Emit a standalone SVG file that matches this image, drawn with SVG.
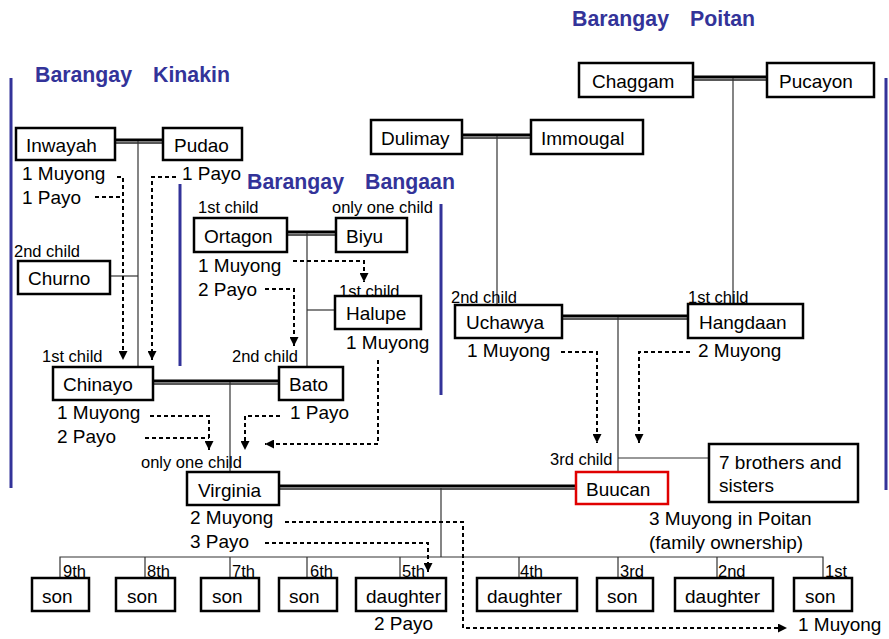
<svg xmlns="http://www.w3.org/2000/svg" width="889" height="639" viewBox="0 0 889 639">
<defs>
<marker id="arr" viewBox="0 0 10 10" refX="10" refY="5" markerWidth="9" markerHeight="9" markerUnits="userSpaceOnUse" orient="auto">
<path d="M0,0 L10,5 L0,10 z" fill="#000"/>
</marker>
<style>
text{font-family:"Liberation Sans",Arial,sans-serif;fill:#000}
.t{font-size:19px}
.s{font-size:16.5px}
.h{font-size:21.3px;font-weight:bold;fill:#333399}
.box{fill:#fff;stroke:#000;stroke-width:2.5}
.red{fill:#fff;stroke:#e00000;stroke-width:2.5}
.blue{stroke:#333399;stroke-width:3;fill:none}
.m1{stroke:#000;stroke-width:3.2;fill:none}
.m2{stroke:#222;stroke-width:1.5;fill:none}
.c{stroke:#333;stroke-width:1.2;fill:none}
.d{stroke:#000;stroke-width:2;stroke-dasharray:4,3;fill:none}
.da{stroke:#000;stroke-width:2;stroke-dasharray:4,3;fill:none;marker-end:url(#arr)}
</style>
</defs>
<rect width="889" height="639" fill="#fff"/>

<g id="regions">
<line class="blue" x1="11" y1="78" x2="11" y2="488"/>
<line class="blue" x1="180" y1="184" x2="180" y2="366"/>
<line class="blue" x1="441" y1="204" x2="441" y2="395"/>
<line class="blue" x1="886" y1="78" x2="886" y2="490"/>
<text class="h" x="35" y="82">Barangay<tspan x="153">Kinakin</tspan></text>
<text class="h" x="247" y="189">Barangay<tspan x="365">Bangaan</tspan></text>
<text class="h" x="572" y="26">Barangay<tspan x="690">Poitan</tspan></text>
</g>

<g id="connectors">
<line class="m1" x1="115" y1="140" x2="163" y2="140"/><line class="m2" x1="115" y1="143" x2="163" y2="143"/>
<line class="m1" x1="153" y1="381" x2="279" y2="381"/><line class="m2" x1="153" y1="384" x2="279" y2="384"/>
<line class="m1" x1="287" y1="232" x2="336" y2="232"/><line class="m2" x1="287" y1="235" x2="336" y2="235"/>
<line class="m1" x1="462" y1="135" x2="531" y2="135"/><line class="m2" x1="462" y1="138" x2="531" y2="138"/>
<line class="m1" x1="693" y1="77" x2="767" y2="77"/><line class="m2" x1="693" y1="80" x2="767" y2="80"/>
<line class="m1" x1="562" y1="316" x2="688" y2="316"/><line class="m2" x1="562" y1="319" x2="688" y2="319"/>
<line class="m1" x1="279" y1="486" x2="576" y2="486"/><line class="m2" x1="279" y1="489" x2="576" y2="489"/>
<line class="c" x1="138" y1="141" x2="138" y2="367"/>
<line class="c" x1="110" y1="276" x2="138" y2="276"/>
<line class="c" x1="307" y1="233" x2="307" y2="367"/>
<line class="c" x1="307" y1="310" x2="335" y2="310"/>
<line class="c" x1="230" y1="382" x2="230" y2="471"/>
<line class="c" x1="497" y1="136" x2="497" y2="305"/>
<line class="c" x1="733" y1="78" x2="733" y2="303"/>
<line class="c" x1="618" y1="317" x2="618" y2="472"/>
<line class="c" x1="618" y1="458" x2="709" y2="458"/>
<line class="c" x1="441" y1="488" x2="441" y2="557"/>
<path class="c" d="M60,578 V557 H823 V578 M145,557 V578 M230,557 V578 M307,557 V578 M400,557 V578 M519,557 V578 M618,557 V578 M717,557 V578"/>
<path class="da" d="M117,177 H123 V360"/>
<path class="d" d="M95,197 H123"/>
<path class="da" d="M176,177 H152 V360"/>
<path class="da" d="M293,261 H364 V282"/>
<path class="da" d="M265,289 H294 V346"/>
<path class="da" d="M378,360 V444 H265"/>
<path class="da" d="M150,416 H209 V450"/>
<path class="d" d="M145,438 H209"/>
<path class="da" d="M280,416 H245 V450"/>
<path class="da" d="M285,522 H463 V628 H787"/>
<path class="da" d="M265,543 H428 V572"/>
<path class="da" d="M561,352 H597 V443"/>
<path class="da" d="M690,352 H639 V443"/>
</g>

<g id="inwayah"><rect class="box" x="16" y="128" width="99" height="32"/><text class="t" x="26" y="152">Inwayah</text>
<text class="t" x="22" y="180">1 Muyong</text><text class="t" x="22" y="204">1 Payo</text></g>
<g id="pudao"><rect class="box" x="163" y="128" width="79" height="32"/><text class="t" x="174" y="152">Pudao</text>
<text class="t" x="182" y="180">1 Payo</text></g>
<g id="churno"><text class="s" x="14" y="257">2nd child</text><rect class="box" x="18" y="261" width="92" height="33"/><text class="t" x="28" y="285">Churno</text></g>
<g id="chinayo"><text class="s" x="42" y="362">1st child</text><rect class="box" x="53" y="367" width="100" height="33"/><text class="t" x="63" y="391">Chinayo</text>
<text class="t" x="57" y="419">1 Muyong</text><text class="t" x="57" y="443">2 Payo</text></g>
<g id="bato"><text class="s" x="232" y="362">2nd child</text><rect class="box" x="279" y="367" width="64" height="33"/><text class="t" x="289" y="391">Bato</text>
<text class="t" x="290" y="419">1 Payo</text></g>
<g id="ortagon"><text class="s" x="198" y="213">1st child</text><rect class="box" x="194" y="218" width="93" height="34"/><text class="t" x="204" y="243">Ortagon</text>
<text class="t" x="198" y="272">1 Muyong</text><text class="t" x="198" y="296">2 Payo</text></g>
<g id="biyu"><text class="s" x="332" y="213">only one child</text><rect class="box" x="336" y="218" width="71" height="34"/><text class="t" x="346" y="243">Biyu</text></g>
<g id="halupe"><rect class="box" x="335" y="296" width="86" height="33"/><text class="s" x="339" y="297">1st child</text><text class="t" x="346" y="320">Halupe</text>
<text class="t" x="346" y="349">1 Muyong</text></g>
<g id="virginia"><text class="s" x="141" y="468">only one child</text><rect class="box" x="187" y="472" width="92" height="33"/><text class="t" x="198" y="497">Virginia</text>
<text class="t" x="190" y="524">2 Muyong</text><text class="t" x="190" y="548">3 Payo</text></g>
<g id="dulimay"><rect class="box" x="371" y="120" width="91" height="34"/><text class="t" x="381" y="145">Dulimay</text></g>
<g id="immougal"><rect class="box" x="531" y="120" width="112" height="34"/><text class="t" x="541" y="145">Immougal</text></g>
<g id="chaggam"><rect class="box" x="579" y="63" width="114" height="34"/><text class="t" x="592" y="88">Chaggam</text></g>
<g id="pucayon"><rect class="box" x="767" y="63" width="107" height="34"/><text class="t" x="779" y="88">Pucayon</text></g>
<g id="uchawya"><rect class="box" x="455" y="305" width="107" height="33"/><text class="s" x="451" y="303">2nd child</text><text class="t" x="466" y="329">Uchawya</text>
<text class="t" x="467" y="357">1 Muyong</text></g>
<g id="hangdaan"><rect class="box" x="688" y="304" width="115" height="34"/><text class="s" x="688" y="303">1st child</text><text class="t" x="699" y="329">Hangdaan</text>
<text class="t" x="698" y="357">2 Muyong</text></g>
<g id="buucan"><text class="s" x="550" y="465">3rd child</text><rect class="red" x="576" y="472" width="92" height="32"/><text class="t" x="586" y="496">Buucan</text>
<text class="t" x="649" y="525">3 Muyong in Poitan</text><text class="t" x="649" y="549">(family ownership)</text></g>
<g id="siblings"><rect class="box" x="709" y="444" width="149" height="58"/><text class="t" x="719" y="469">7 brothers and</text><text class="t" x="719" y="492">sisters</text></g>

<g id="child9"><text class="s" x="63" y="577">9th</text><rect class="box" x="32" y="578" width="57" height="33"/><text class="t" x="42" y="603">son</text></g>
<g id="child8"><text class="s" x="147" y="577">8th</text><rect class="box" x="116" y="578" width="59" height="33"/><text class="t" x="127" y="603">son</text></g>
<g id="child7"><text class="s" x="232" y="577">7th</text><rect class="box" x="201" y="578" width="58" height="33"/><text class="t" x="212" y="603">son</text></g>
<g id="child6"><text class="s" x="310" y="577">6th</text><rect class="box" x="279" y="578" width="58" height="33"/><text class="t" x="289" y="603">son</text></g>
<g id="child5"><text class="s" x="402" y="577">5th</text><rect class="box" x="356" y="578" width="90" height="33"/><text class="t" x="366" y="603">daughter</text>
<text class="t" x="374" y="630">2 Payo</text></g>
<g id="child4"><text class="s" x="520" y="577">4th</text><rect class="box" x="477" y="578" width="100" height="33"/><text class="t" x="487" y="603">daughter</text></g>
<g id="child3"><text class="s" x="620" y="577">3rd</text><rect class="box" x="597" y="578" width="56" height="33"/><text class="t" x="607" y="603">son</text></g>
<g id="child2"><text class="s" x="718" y="577">2nd</text><rect class="box" x="675" y="578" width="98" height="33"/><text class="t" x="685" y="603">daughter</text></g>
<g id="child1"><text class="s" x="825" y="577">1st</text><rect class="box" x="794" y="578" width="58" height="33"/><text class="t" x="805" y="603">son</text>
<text class="t" x="798" y="631">1 Muyong</text></g>
</svg>
